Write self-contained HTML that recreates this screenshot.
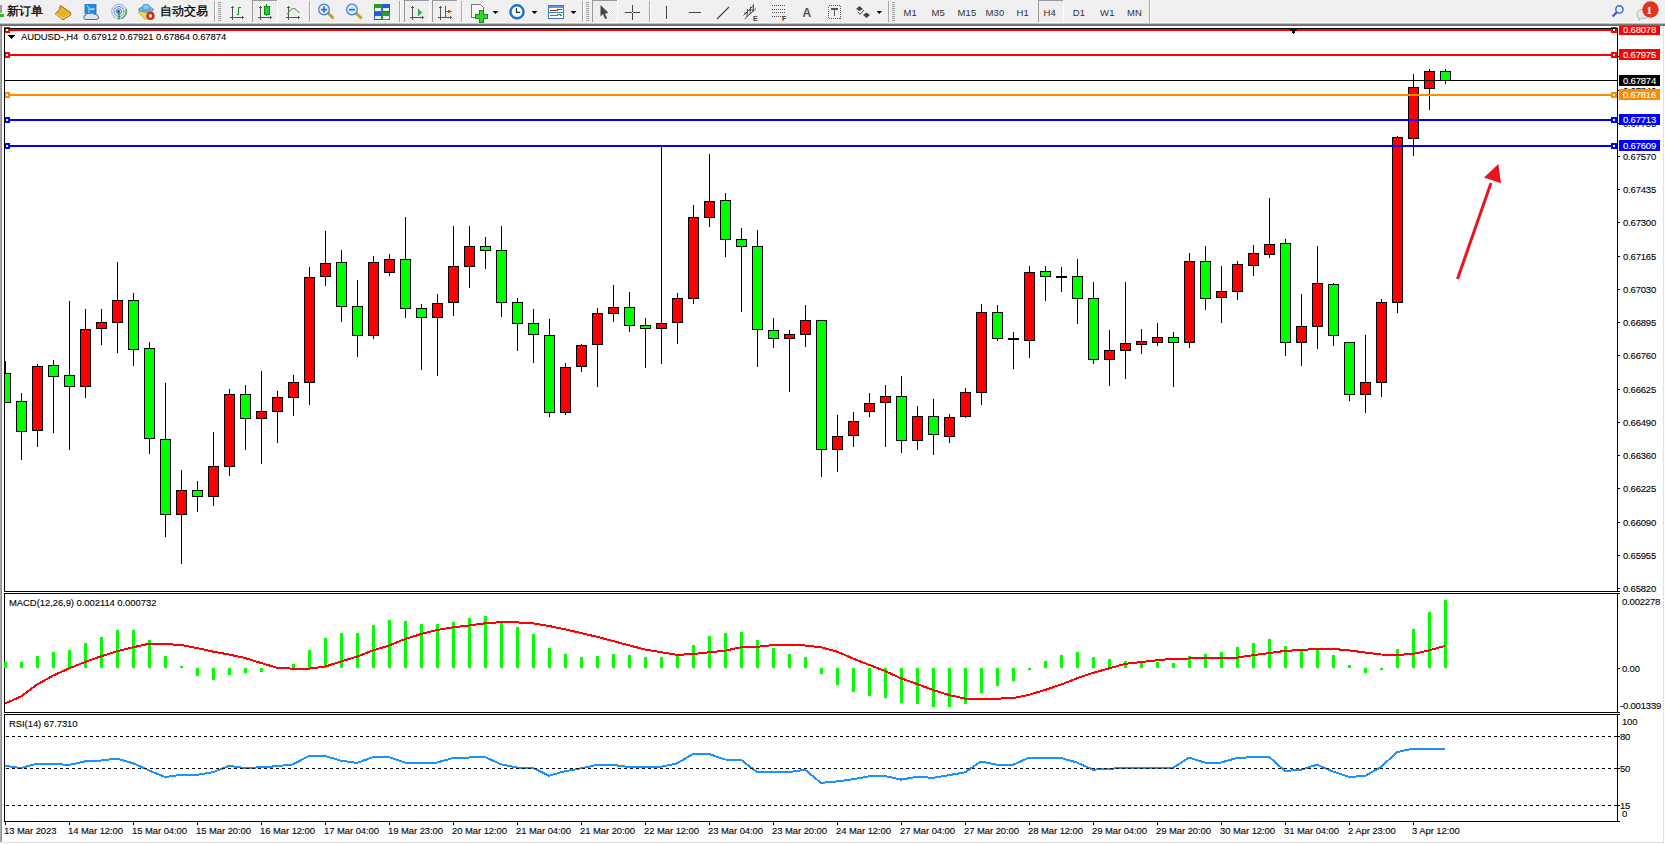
<!DOCTYPE html>
<html><head><meta charset="utf-8"><title>MT4</title>
<style>html,body{margin:0;padding:0;width:1665px;height:844px;overflow:hidden;background:#f0f0f0} svg{display:block}</style>
</head><body>
<svg width="1665" height="844" viewBox="0 0 1665 844" shape-rendering="crispEdges">
<style>text{font-family:'Liberation Sans', sans-serif;} .ax{font-size:9.5px;letter-spacing:-0.19px;fill:#000;stroke:#000;stroke-width:0.1px} .axw{font-size:9.5px;letter-spacing:-0.19px;fill:#fff;stroke:#fff;stroke-width:0.1px} .tm{font-size:9.5px;letter-spacing:-0.08px;fill:#000;stroke:#000;stroke-width:0.1px} .lb{font-size:9.5px;letter-spacing:-0.08px;fill:#000;stroke:#000;stroke-width:0.1px} .cj{font-size:12px;fill:#000;stroke:#000;stroke-width:0.3px} .tf{font-size:9.5px;fill:#333;letter-spacing:0.2px} .ic{font-size:7px;font-weight:bold;fill:#444} .icA{font-size:12px;font-weight:bold;fill:#555} .bd{font-family:"Liberation Serif",serif;font-size:11px;font-weight:bold;fill:#fff}</style>
<defs><pattern id="chk" width="2" height="2" patternUnits="userSpaceOnUse"><rect width="2" height="2" fill="#f6f6f6"/><rect width="1" height="1" fill="#e6e6e6"/><rect x="1" y="1" width="1" height="1" fill="#e6e6e6"/></pattern><clipPath id="cm"><rect x="5" y="29" width="1612" height="562"/></clipPath><clipPath id="cw"><rect x="0" y="26" width="1665" height="818"/></clipPath></defs>
<g clip-path="url(#cw)">
<rect x="2" y="26" width="1661" height="816" fill="#fff"/>
<rect x="0" y="24" width="1" height="818" fill="#ababab"/>
<rect x="1" y="24" width="1" height="818" fill="#8a8a8a"/>
<rect x="1664" y="26" width="1" height="818" fill="#fdfdfd"/>
<rect x="0" y="843" width="1665" height="1" fill="#fdfdfd"/>
<rect x="1663" y="26" width="1" height="817" fill="#e0e0e0"/>
<rect x="2" y="842" width="1662" height="1" fill="#e0e0e0"/>
<rect x="1618" y="588" width="2" height="1" fill="#000"/>
<text x="1623" y="592" class="ax">0.65820</text>
<rect x="1618" y="555" width="2" height="1" fill="#000"/>
<text x="1623" y="559" class="ax">0.65955</text>
<rect x="1618" y="522" width="2" height="1" fill="#000"/>
<text x="1623" y="526" class="ax">0.66090</text>
<rect x="1618" y="488" width="2" height="1" fill="#000"/>
<text x="1623" y="492" class="ax">0.66225</text>
<rect x="1618" y="455" width="2" height="1" fill="#000"/>
<text x="1623" y="459" class="ax">0.66360</text>
<rect x="1618" y="422" width="2" height="1" fill="#000"/>
<text x="1623" y="426" class="ax">0.66490</text>
<rect x="1618" y="389" width="2" height="1" fill="#000"/>
<text x="1623" y="393" class="ax">0.66625</text>
<rect x="1618" y="355" width="2" height="1" fill="#000"/>
<text x="1623" y="359" class="ax">0.66760</text>
<rect x="1618" y="322" width="2" height="1" fill="#000"/>
<text x="1623" y="326" class="ax">0.66895</text>
<rect x="1618" y="289" width="2" height="1" fill="#000"/>
<text x="1623" y="293" class="ax">0.67030</text>
<rect x="1618" y="256" width="2" height="1" fill="#000"/>
<text x="1623" y="260" class="ax">0.67165</text>
<rect x="1618" y="222" width="2" height="1" fill="#000"/>
<text x="1623" y="226" class="ax">0.67300</text>
<rect x="1618" y="189" width="2" height="1" fill="#000"/>
<text x="1623" y="193" class="ax">0.67435</text>
<rect x="1618" y="156" width="2" height="1" fill="#000"/>
<text x="1623" y="160" class="ax">0.67570</text>
<rect x="1618" y="123" width="2" height="1" fill="#000"/>
<text x="1623" y="127" class="ax">0.67705</text>
<rect x="1618" y="90" width="2" height="1" fill="#000"/>
<text x="1623" y="94" class="ax">0.67840</text>
<rect x="1618" y="56" width="2" height="1" fill="#000"/>
<text x="1623" y="60" class="ax">0.67975</text>
<g clip-path="url(#cm)">
<rect x="5" y="361" width="1" height="42" fill="#000"/>
<rect x="0" y="373" width="11" height="30" fill="#000"/>
<rect x="1" y="374" width="9" height="28" fill="#00ff00"/>
<rect x="21" y="393" width="1" height="67" fill="#000"/>
<rect x="16" y="401" width="11" height="31" fill="#000"/>
<rect x="17" y="402" width="9" height="29" fill="#00ff00"/>
<rect x="37" y="364" width="1" height="83" fill="#000"/>
<rect x="32" y="366" width="11" height="65" fill="#000"/>
<rect x="33" y="367" width="9" height="63" fill="#ff0000"/>
<rect x="53" y="360" width="1" height="73" fill="#000"/>
<rect x="48" y="365" width="11" height="12" fill="#000"/>
<rect x="49" y="366" width="9" height="10" fill="#00ff00"/>
<rect x="69" y="301" width="1" height="149" fill="#000"/>
<rect x="64" y="375" width="11" height="12" fill="#000"/>
<rect x="65" y="376" width="9" height="10" fill="#00ff00"/>
<rect x="85" y="309" width="1" height="89" fill="#000"/>
<rect x="80" y="329" width="11" height="58" fill="#000"/>
<rect x="81" y="330" width="9" height="56" fill="#ff0000"/>
<rect x="101" y="309" width="1" height="36" fill="#000"/>
<rect x="96" y="322" width="11" height="7" fill="#000"/>
<rect x="97" y="323" width="9" height="5" fill="#ff0000"/>
<rect x="117" y="262" width="1" height="91" fill="#000"/>
<rect x="112" y="300" width="11" height="23" fill="#000"/>
<rect x="113" y="301" width="9" height="21" fill="#ff0000"/>
<rect x="133" y="293" width="1" height="73" fill="#000"/>
<rect x="128" y="300" width="11" height="50" fill="#000"/>
<rect x="129" y="301" width="9" height="48" fill="#00ff00"/>
<rect x="149" y="342" width="1" height="112" fill="#000"/>
<rect x="144" y="348" width="11" height="91" fill="#000"/>
<rect x="145" y="349" width="9" height="89" fill="#00ff00"/>
<rect x="165" y="383" width="1" height="154" fill="#000"/>
<rect x="160" y="439" width="11" height="76" fill="#000"/>
<rect x="161" y="440" width="9" height="74" fill="#00ff00"/>
<rect x="181" y="470" width="1" height="94" fill="#000"/>
<rect x="176" y="490" width="11" height="25" fill="#000"/>
<rect x="177" y="491" width="9" height="23" fill="#ff0000"/>
<rect x="197" y="481" width="1" height="31" fill="#000"/>
<rect x="192" y="490" width="11" height="7" fill="#000"/>
<rect x="193" y="491" width="9" height="5" fill="#00ff00"/>
<rect x="213" y="432" width="1" height="74" fill="#000"/>
<rect x="208" y="466" width="11" height="31" fill="#000"/>
<rect x="209" y="467" width="9" height="29" fill="#ff0000"/>
<rect x="229" y="389" width="1" height="87" fill="#000"/>
<rect x="224" y="394" width="11" height="73" fill="#000"/>
<rect x="225" y="395" width="9" height="71" fill="#ff0000"/>
<rect x="245" y="385" width="1" height="65" fill="#000"/>
<rect x="240" y="394" width="11" height="25" fill="#000"/>
<rect x="241" y="395" width="9" height="23" fill="#00ff00"/>
<rect x="261" y="371" width="1" height="93" fill="#000"/>
<rect x="256" y="411" width="11" height="8" fill="#000"/>
<rect x="257" y="412" width="9" height="6" fill="#ff0000"/>
<rect x="277" y="391" width="1" height="52" fill="#000"/>
<rect x="272" y="397" width="11" height="15" fill="#000"/>
<rect x="273" y="398" width="9" height="13" fill="#ff0000"/>
<rect x="293" y="375" width="1" height="41" fill="#000"/>
<rect x="288" y="382" width="11" height="16" fill="#000"/>
<rect x="289" y="383" width="9" height="14" fill="#ff0000"/>
<rect x="309" y="267" width="1" height="138" fill="#000"/>
<rect x="304" y="277" width="11" height="106" fill="#000"/>
<rect x="305" y="278" width="9" height="104" fill="#ff0000"/>
<rect x="325" y="231" width="1" height="55" fill="#000"/>
<rect x="320" y="263" width="11" height="14" fill="#000"/>
<rect x="321" y="264" width="9" height="12" fill="#ff0000"/>
<rect x="341" y="250" width="1" height="72" fill="#000"/>
<rect x="336" y="262" width="11" height="45" fill="#000"/>
<rect x="337" y="263" width="9" height="43" fill="#00ff00"/>
<rect x="357" y="280" width="1" height="77" fill="#000"/>
<rect x="352" y="306" width="11" height="30" fill="#000"/>
<rect x="353" y="307" width="9" height="28" fill="#00ff00"/>
<rect x="373" y="256" width="1" height="83" fill="#000"/>
<rect x="368" y="262" width="11" height="74" fill="#000"/>
<rect x="369" y="263" width="9" height="72" fill="#ff0000"/>
<rect x="389" y="254" width="1" height="22" fill="#000"/>
<rect x="384" y="259" width="11" height="14" fill="#000"/>
<rect x="385" y="260" width="9" height="12" fill="#ff0000"/>
<rect x="405" y="217" width="1" height="101" fill="#000"/>
<rect x="400" y="259" width="11" height="50" fill="#000"/>
<rect x="401" y="260" width="9" height="48" fill="#00ff00"/>
<rect x="421" y="304" width="1" height="66" fill="#000"/>
<rect x="416" y="308" width="11" height="10" fill="#000"/>
<rect x="417" y="309" width="9" height="8" fill="#00ff00"/>
<rect x="437" y="294" width="1" height="82" fill="#000"/>
<rect x="432" y="303" width="11" height="15" fill="#000"/>
<rect x="433" y="304" width="9" height="13" fill="#ff0000"/>
<rect x="453" y="226" width="1" height="90" fill="#000"/>
<rect x="448" y="266" width="11" height="37" fill="#000"/>
<rect x="449" y="267" width="9" height="35" fill="#ff0000"/>
<rect x="469" y="226" width="1" height="62" fill="#000"/>
<rect x="464" y="246" width="11" height="21" fill="#000"/>
<rect x="465" y="247" width="9" height="19" fill="#ff0000"/>
<rect x="485" y="237" width="1" height="32" fill="#000"/>
<rect x="480" y="246" width="11" height="5" fill="#000"/>
<rect x="481" y="247" width="9" height="3" fill="#00ff00"/>
<rect x="501" y="226" width="1" height="91" fill="#000"/>
<rect x="496" y="250" width="11" height="53" fill="#000"/>
<rect x="497" y="251" width="9" height="51" fill="#00ff00"/>
<rect x="517" y="298" width="1" height="53" fill="#000"/>
<rect x="512" y="302" width="11" height="22" fill="#000"/>
<rect x="513" y="303" width="9" height="20" fill="#00ff00"/>
<rect x="533" y="309" width="1" height="54" fill="#000"/>
<rect x="528" y="323" width="11" height="12" fill="#000"/>
<rect x="529" y="324" width="9" height="10" fill="#00ff00"/>
<rect x="549" y="319" width="1" height="98" fill="#000"/>
<rect x="544" y="335" width="11" height="78" fill="#000"/>
<rect x="545" y="336" width="9" height="76" fill="#00ff00"/>
<rect x="565" y="363" width="1" height="52" fill="#000"/>
<rect x="560" y="367" width="11" height="46" fill="#000"/>
<rect x="561" y="368" width="9" height="44" fill="#ff0000"/>
<rect x="581" y="344" width="1" height="28" fill="#000"/>
<rect x="576" y="345" width="11" height="22" fill="#000"/>
<rect x="577" y="346" width="9" height="20" fill="#ff0000"/>
<rect x="597" y="308" width="1" height="79" fill="#000"/>
<rect x="592" y="313" width="11" height="32" fill="#000"/>
<rect x="593" y="314" width="9" height="30" fill="#ff0000"/>
<rect x="613" y="285" width="1" height="37" fill="#000"/>
<rect x="608" y="307" width="11" height="7" fill="#000"/>
<rect x="609" y="308" width="9" height="5" fill="#ff0000"/>
<rect x="629" y="292" width="1" height="40" fill="#000"/>
<rect x="624" y="307" width="11" height="19" fill="#000"/>
<rect x="625" y="308" width="9" height="17" fill="#00ff00"/>
<rect x="645" y="318" width="1" height="50" fill="#000"/>
<rect x="640" y="325" width="11" height="4" fill="#000"/>
<rect x="641" y="326" width="9" height="2" fill="#00ff00"/>
<rect x="661" y="146" width="1" height="218" fill="#000"/>
<rect x="656" y="323" width="11" height="6" fill="#000"/>
<rect x="657" y="324" width="9" height="4" fill="#ff0000"/>
<rect x="677" y="293" width="1" height="51" fill="#000"/>
<rect x="672" y="298" width="11" height="25" fill="#000"/>
<rect x="673" y="299" width="9" height="23" fill="#ff0000"/>
<rect x="693" y="205" width="1" height="99" fill="#000"/>
<rect x="688" y="217" width="11" height="82" fill="#000"/>
<rect x="689" y="218" width="9" height="80" fill="#ff0000"/>
<rect x="709" y="154" width="1" height="73" fill="#000"/>
<rect x="704" y="201" width="11" height="17" fill="#000"/>
<rect x="705" y="202" width="9" height="15" fill="#ff0000"/>
<rect x="725" y="193" width="1" height="64" fill="#000"/>
<rect x="720" y="200" width="11" height="40" fill="#000"/>
<rect x="721" y="201" width="9" height="38" fill="#00ff00"/>
<rect x="741" y="228" width="1" height="84" fill="#000"/>
<rect x="736" y="239" width="11" height="8" fill="#000"/>
<rect x="737" y="240" width="9" height="6" fill="#00ff00"/>
<rect x="757" y="230" width="1" height="137" fill="#000"/>
<rect x="752" y="246" width="11" height="84" fill="#000"/>
<rect x="753" y="247" width="9" height="82" fill="#00ff00"/>
<rect x="773" y="318" width="1" height="30" fill="#000"/>
<rect x="768" y="330" width="11" height="9" fill="#000"/>
<rect x="769" y="331" width="9" height="7" fill="#00ff00"/>
<rect x="789" y="330" width="1" height="62" fill="#000"/>
<rect x="784" y="334" width="11" height="5" fill="#000"/>
<rect x="785" y="335" width="9" height="3" fill="#ff0000"/>
<rect x="805" y="305" width="1" height="42" fill="#000"/>
<rect x="800" y="320" width="11" height="15" fill="#000"/>
<rect x="801" y="321" width="9" height="13" fill="#ff0000"/>
<rect x="821" y="320" width="1" height="157" fill="#000"/>
<rect x="816" y="320" width="11" height="130" fill="#000"/>
<rect x="817" y="321" width="9" height="128" fill="#00ff00"/>
<rect x="837" y="415" width="1" height="57" fill="#000"/>
<rect x="832" y="436" width="11" height="14" fill="#000"/>
<rect x="833" y="437" width="9" height="12" fill="#ff0000"/>
<rect x="853" y="412" width="1" height="35" fill="#000"/>
<rect x="848" y="421" width="11" height="15" fill="#000"/>
<rect x="849" y="422" width="9" height="13" fill="#ff0000"/>
<rect x="869" y="393" width="1" height="24" fill="#000"/>
<rect x="864" y="403" width="11" height="9" fill="#000"/>
<rect x="865" y="404" width="9" height="7" fill="#ff0000"/>
<rect x="885" y="385" width="1" height="62" fill="#000"/>
<rect x="880" y="396" width="11" height="7" fill="#000"/>
<rect x="881" y="397" width="9" height="5" fill="#ff0000"/>
<rect x="901" y="376" width="1" height="77" fill="#000"/>
<rect x="896" y="396" width="11" height="45" fill="#000"/>
<rect x="897" y="397" width="9" height="43" fill="#00ff00"/>
<rect x="917" y="406" width="1" height="44" fill="#000"/>
<rect x="912" y="416" width="11" height="25" fill="#000"/>
<rect x="913" y="417" width="9" height="23" fill="#ff0000"/>
<rect x="933" y="399" width="1" height="56" fill="#000"/>
<rect x="928" y="416" width="11" height="19" fill="#000"/>
<rect x="929" y="417" width="9" height="17" fill="#00ff00"/>
<rect x="949" y="414" width="1" height="29" fill="#000"/>
<rect x="944" y="417" width="11" height="20" fill="#000"/>
<rect x="945" y="418" width="9" height="18" fill="#ff0000"/>
<rect x="965" y="388" width="1" height="30" fill="#000"/>
<rect x="960" y="392" width="11" height="25" fill="#000"/>
<rect x="961" y="393" width="9" height="23" fill="#ff0000"/>
<rect x="981" y="304" width="1" height="101" fill="#000"/>
<rect x="976" y="312" width="11" height="81" fill="#000"/>
<rect x="977" y="313" width="9" height="79" fill="#ff0000"/>
<rect x="997" y="305" width="1" height="36" fill="#000"/>
<rect x="992" y="312" width="11" height="27" fill="#000"/>
<rect x="993" y="313" width="9" height="25" fill="#00ff00"/>
<rect x="1013" y="332" width="1" height="37" fill="#000"/>
<rect x="1008" y="338" width="11" height="2" fill="#000"/>
<rect x="1029" y="266" width="1" height="92" fill="#000"/>
<rect x="1024" y="272" width="11" height="69" fill="#000"/>
<rect x="1025" y="273" width="9" height="67" fill="#ff0000"/>
<rect x="1045" y="266" width="1" height="35" fill="#000"/>
<rect x="1040" y="271" width="11" height="6" fill="#000"/>
<rect x="1041" y="272" width="9" height="4" fill="#00ff00"/>
<rect x="1061" y="267" width="1" height="25" fill="#000"/>
<rect x="1056" y="276" width="11" height="2" fill="#000"/>
<rect x="1077" y="259" width="1" height="65" fill="#000"/>
<rect x="1072" y="276" width="11" height="23" fill="#000"/>
<rect x="1073" y="277" width="9" height="21" fill="#00ff00"/>
<rect x="1093" y="282" width="1" height="82" fill="#000"/>
<rect x="1088" y="298" width="11" height="62" fill="#000"/>
<rect x="1089" y="299" width="9" height="60" fill="#00ff00"/>
<rect x="1109" y="330" width="1" height="56" fill="#000"/>
<rect x="1104" y="350" width="11" height="10" fill="#000"/>
<rect x="1105" y="351" width="9" height="8" fill="#ff0000"/>
<rect x="1125" y="282" width="1" height="97" fill="#000"/>
<rect x="1120" y="343" width="11" height="8" fill="#000"/>
<rect x="1121" y="344" width="9" height="6" fill="#ff0000"/>
<rect x="1141" y="329" width="1" height="25" fill="#000"/>
<rect x="1136" y="341" width="11" height="4" fill="#000"/>
<rect x="1137" y="342" width="9" height="2" fill="#ff0000"/>
<rect x="1157" y="323" width="1" height="23" fill="#000"/>
<rect x="1152" y="337" width="11" height="6" fill="#000"/>
<rect x="1153" y="338" width="9" height="4" fill="#ff0000"/>
<rect x="1173" y="332" width="1" height="55" fill="#000"/>
<rect x="1168" y="337" width="11" height="6" fill="#000"/>
<rect x="1169" y="338" width="9" height="4" fill="#00ff00"/>
<rect x="1189" y="253" width="1" height="95" fill="#000"/>
<rect x="1184" y="261" width="11" height="82" fill="#000"/>
<rect x="1185" y="262" width="9" height="80" fill="#ff0000"/>
<rect x="1205" y="246" width="1" height="64" fill="#000"/>
<rect x="1200" y="261" width="11" height="38" fill="#000"/>
<rect x="1201" y="262" width="9" height="36" fill="#00ff00"/>
<rect x="1221" y="266" width="1" height="57" fill="#000"/>
<rect x="1216" y="291" width="11" height="7" fill="#000"/>
<rect x="1217" y="292" width="9" height="5" fill="#ff0000"/>
<rect x="1237" y="261" width="1" height="39" fill="#000"/>
<rect x="1232" y="264" width="11" height="28" fill="#000"/>
<rect x="1233" y="265" width="9" height="26" fill="#ff0000"/>
<rect x="1253" y="245" width="1" height="31" fill="#000"/>
<rect x="1248" y="253" width="11" height="13" fill="#000"/>
<rect x="1249" y="254" width="9" height="11" fill="#ff0000"/>
<rect x="1269" y="198" width="1" height="60" fill="#000"/>
<rect x="1264" y="244" width="11" height="11" fill="#000"/>
<rect x="1265" y="245" width="9" height="9" fill="#ff0000"/>
<rect x="1285" y="239" width="1" height="117" fill="#000"/>
<rect x="1280" y="243" width="11" height="100" fill="#000"/>
<rect x="1281" y="244" width="9" height="98" fill="#00ff00"/>
<rect x="1301" y="294" width="1" height="72" fill="#000"/>
<rect x="1296" y="326" width="11" height="17" fill="#000"/>
<rect x="1297" y="327" width="9" height="15" fill="#ff0000"/>
<rect x="1317" y="246" width="1" height="103" fill="#000"/>
<rect x="1312" y="283" width="11" height="44" fill="#000"/>
<rect x="1313" y="284" width="9" height="42" fill="#ff0000"/>
<rect x="1333" y="283" width="1" height="63" fill="#000"/>
<rect x="1328" y="284" width="11" height="52" fill="#000"/>
<rect x="1329" y="285" width="9" height="50" fill="#00ff00"/>
<rect x="1349" y="342" width="1" height="59" fill="#000"/>
<rect x="1344" y="342" width="11" height="53" fill="#000"/>
<rect x="1345" y="343" width="9" height="51" fill="#00ff00"/>
<rect x="1365" y="335" width="1" height="78" fill="#000"/>
<rect x="1360" y="382" width="11" height="13" fill="#000"/>
<rect x="1361" y="383" width="9" height="11" fill="#ff0000"/>
<rect x="1381" y="299" width="1" height="98" fill="#000"/>
<rect x="1376" y="302" width="11" height="81" fill="#000"/>
<rect x="1377" y="303" width="9" height="79" fill="#ff0000"/>
<rect x="1397" y="136" width="1" height="177" fill="#000"/>
<rect x="1392" y="137" width="11" height="166" fill="#000"/>
<rect x="1393" y="138" width="9" height="164" fill="#ff0000"/>
<rect x="1413" y="74" width="1" height="82" fill="#000"/>
<rect x="1408" y="87" width="11" height="52" fill="#000"/>
<rect x="1409" y="88" width="9" height="50" fill="#ff0000"/>
<rect x="1429" y="69" width="1" height="41" fill="#000"/>
<rect x="1424" y="71" width="11" height="18" fill="#000"/>
<rect x="1425" y="72" width="9" height="16" fill="#ff0000"/>
<rect x="1445" y="69" width="1" height="15" fill="#000"/>
<rect x="1440" y="71" width="11" height="10" fill="#000"/>
<rect x="1441" y="72" width="9" height="8" fill="#00ff00"/>
</g>
<rect x="5" y="80" width="1612" height="1" fill="#000"/>
<rect x="5" y="29" width="1612" height="2" fill="#ff0000"/>
<rect x="4" y="27" width="6" height="6" fill="#ff0000"/><rect x="6" y="29" width="2" height="2" fill="#fff"/>
<rect x="1611" y="27" width="6" height="6" fill="#ff0000"/><rect x="1613" y="29" width="2" height="2" fill="#fff"/>
<rect x="5" y="54" width="1612" height="2" fill="#ff0000"/>
<rect x="4" y="52" width="6" height="6" fill="#ff0000"/><rect x="6" y="54" width="2" height="2" fill="#fff"/>
<rect x="1611" y="52" width="6" height="6" fill="#ff0000"/><rect x="1613" y="54" width="2" height="2" fill="#fff"/>
<rect x="5" y="119" width="1612" height="2" fill="#0000ff"/>
<rect x="4" y="117" width="6" height="6" fill="#0000ff"/><rect x="6" y="119" width="2" height="2" fill="#fff"/>
<rect x="1611" y="117" width="6" height="6" fill="#0000ff"/><rect x="1613" y="119" width="2" height="2" fill="#fff"/>
<rect x="5" y="145" width="1612" height="2" fill="#0000ff"/>
<rect x="4" y="143" width="6" height="6" fill="#0000ff"/><rect x="6" y="145" width="2" height="2" fill="#fff"/>
<rect x="1611" y="143" width="6" height="6" fill="#0000ff"/><rect x="1613" y="145" width="2" height="2" fill="#fff"/>
<rect x="5" y="94" width="1612" height="2" fill="#ff8c00"/>
<rect x="4" y="92" width="6" height="6" fill="#ff8c00"/><rect x="6" y="94" width="2" height="2" fill="#fff"/>
<rect x="1611" y="92" width="6" height="6" fill="#ff8c00"/><rect x="1613" y="94" width="2" height="2" fill="#fff"/>
<rect x="1619" y="24" width="41" height="11" fill="#ff0000"/>
<text x="1623" y="33" class="axw">0.68078</text>
<rect x="1619" y="49" width="41" height="11" fill="#ff0000"/>
<text x="1623" y="58" class="axw">0.67975</text>
<rect x="1619" y="114" width="41" height="11" fill="#0000ff"/>
<text x="1623" y="123" class="axw">0.67713</text>
<rect x="1619" y="140" width="41" height="11" fill="#0000ff"/>
<text x="1623" y="149" class="axw">0.67609</text>
<rect x="1619" y="89" width="41" height="11" fill="#ff8c00"/>
<text x="1623" y="98" class="axw">0.67816</text>
<rect x="1619" y="75" width="41" height="11" fill="#000000"/>
<text x="1623" y="84" class="axw">0.67874</text>
<path d="M1289 28 L1298 28 L1293.5 34 Z" fill="#000"/>
<g shape-rendering="geometricPrecision"><line x1="1457.5" y1="279" x2="1491" y2="183" stroke="#e8141e" stroke-width="3"/>
<path d="M1498.4 164 L1484 177.4 L1501 183.2 Z" fill="#e8141e"/></g>
<rect x="4" y="28" width="1614" height="1" fill="#000"/>
<rect x="4" y="591" width="1614" height="1" fill="#000"/>
<rect x="4" y="28" width="1" height="564" fill="#000"/>
<rect x="1617" y="28" width="1" height="564" fill="#000"/>
<rect x="4" y="593" width="1614" height="1" fill="#000"/>
<rect x="4" y="712" width="1614" height="1" fill="#000"/>
<rect x="4" y="593" width="1" height="120" fill="#000"/>
<rect x="1617" y="593" width="1" height="120" fill="#000"/>
<rect x="4" y="714" width="1614" height="1" fill="#000"/>
<rect x="4" y="821" width="1614" height="1" fill="#000"/>
<rect x="4" y="714" width="1" height="108" fill="#000"/>
<rect x="1617" y="714" width="1" height="108" fill="#000"/>
<path d="M8 35 L15 35 L11.5 39 Z" fill="#000"/>
<text x="21" y="40" class="lb">AUDUSD-,H4&#160;&#160;0.67912 0.67921 0.67864 0.67874</text>
<text x="9" y="606" class="lb">MACD(12,26,9) 0.002114 0.000732</text>
<rect x="4" y="662" width="3" height="6" fill="#00ff00"/>
<rect x="20" y="662" width="3" height="6" fill="#00ff00"/>
<rect x="36" y="656" width="3" height="12" fill="#00ff00"/>
<rect x="52" y="652" width="3" height="16" fill="#00ff00"/>
<rect x="68" y="650" width="3" height="18" fill="#00ff00"/>
<rect x="84" y="643" width="3" height="25" fill="#00ff00"/>
<rect x="100" y="637" width="3" height="31" fill="#00ff00"/>
<rect x="116" y="630" width="3" height="38" fill="#00ff00"/>
<rect x="132" y="630" width="3" height="38" fill="#00ff00"/>
<rect x="148" y="640" width="3" height="28" fill="#00ff00"/>
<rect x="164" y="656" width="3" height="12" fill="#00ff00"/>
<rect x="180" y="666" width="3" height="2" fill="#00ff00"/>
<rect x="196" y="668" width="3" height="8" fill="#00ff00"/>
<rect x="212" y="668" width="3" height="12" fill="#00ff00"/>
<rect x="228" y="668" width="3" height="7" fill="#00ff00"/>
<rect x="244" y="668" width="3" height="5" fill="#00ff00"/>
<rect x="260" y="668" width="3" height="4" fill="#00ff00"/>
<rect x="276" y="668" width="3" height="1" fill="#00ff00"/>
<rect x="292" y="664" width="3" height="4" fill="#00ff00"/>
<rect x="308" y="650" width="3" height="18" fill="#00ff00"/>
<rect x="324" y="638" width="3" height="30" fill="#00ff00"/>
<rect x="340" y="633" width="3" height="35" fill="#00ff00"/>
<rect x="356" y="633" width="3" height="35" fill="#00ff00"/>
<rect x="372" y="625" width="3" height="43" fill="#00ff00"/>
<rect x="388" y="620" width="3" height="48" fill="#00ff00"/>
<rect x="404" y="621" width="3" height="47" fill="#00ff00"/>
<rect x="420" y="624" width="3" height="44" fill="#00ff00"/>
<rect x="436" y="624" width="3" height="44" fill="#00ff00"/>
<rect x="452" y="622" width="3" height="46" fill="#00ff00"/>
<rect x="468" y="618" width="3" height="50" fill="#00ff00"/>
<rect x="484" y="616" width="3" height="52" fill="#00ff00"/>
<rect x="500" y="623" width="3" height="45" fill="#00ff00"/>
<rect x="516" y="627" width="3" height="41" fill="#00ff00"/>
<rect x="532" y="634" width="3" height="34" fill="#00ff00"/>
<rect x="548" y="648" width="3" height="20" fill="#00ff00"/>
<rect x="564" y="654" width="3" height="14" fill="#00ff00"/>
<rect x="580" y="657" width="3" height="11" fill="#00ff00"/>
<rect x="596" y="656" width="3" height="12" fill="#00ff00"/>
<rect x="612" y="654" width="3" height="14" fill="#00ff00"/>
<rect x="628" y="655" width="3" height="13" fill="#00ff00"/>
<rect x="644" y="657" width="3" height="11" fill="#00ff00"/>
<rect x="660" y="657" width="3" height="11" fill="#00ff00"/>
<rect x="676" y="656" width="3" height="12" fill="#00ff00"/>
<rect x="692" y="645" width="3" height="23" fill="#00ff00"/>
<rect x="708" y="636" width="3" height="32" fill="#00ff00"/>
<rect x="724" y="633" width="3" height="35" fill="#00ff00"/>
<rect x="740" y="632" width="3" height="36" fill="#00ff00"/>
<rect x="756" y="640" width="3" height="28" fill="#00ff00"/>
<rect x="772" y="648" width="3" height="20" fill="#00ff00"/>
<rect x="788" y="654" width="3" height="14" fill="#00ff00"/>
<rect x="804" y="657" width="3" height="11" fill="#00ff00"/>
<rect x="820" y="668" width="3" height="6" fill="#00ff00"/>
<rect x="836" y="668" width="3" height="17" fill="#00ff00"/>
<rect x="852" y="668" width="3" height="24" fill="#00ff00"/>
<rect x="868" y="668" width="3" height="28" fill="#00ff00"/>
<rect x="884" y="668" width="3" height="30" fill="#00ff00"/>
<rect x="900" y="668" width="3" height="35" fill="#00ff00"/>
<rect x="916" y="668" width="3" height="36" fill="#00ff00"/>
<rect x="932" y="668" width="3" height="39" fill="#00ff00"/>
<rect x="948" y="668" width="3" height="39" fill="#00ff00"/>
<rect x="964" y="668" width="3" height="36" fill="#00ff00"/>
<rect x="980" y="668" width="3" height="25" fill="#00ff00"/>
<rect x="996" y="668" width="3" height="18" fill="#00ff00"/>
<rect x="1012" y="668" width="3" height="13" fill="#00ff00"/>
<rect x="1028" y="668" width="3" height="2" fill="#00ff00"/>
<rect x="1044" y="661" width="3" height="7" fill="#00ff00"/>
<rect x="1060" y="655" width="3" height="13" fill="#00ff00"/>
<rect x="1076" y="652" width="3" height="16" fill="#00ff00"/>
<rect x="1092" y="657" width="3" height="11" fill="#00ff00"/>
<rect x="1108" y="659" width="3" height="9" fill="#00ff00"/>
<rect x="1124" y="661" width="3" height="7" fill="#00ff00"/>
<rect x="1140" y="662" width="3" height="6" fill="#00ff00"/>
<rect x="1156" y="662" width="3" height="6" fill="#00ff00"/>
<rect x="1172" y="663" width="3" height="5" fill="#00ff00"/>
<rect x="1188" y="656" width="3" height="12" fill="#00ff00"/>
<rect x="1204" y="654" width="3" height="14" fill="#00ff00"/>
<rect x="1220" y="652" width="3" height="16" fill="#00ff00"/>
<rect x="1236" y="647" width="3" height="21" fill="#00ff00"/>
<rect x="1252" y="643" width="3" height="25" fill="#00ff00"/>
<rect x="1268" y="639" width="3" height="29" fill="#00ff00"/>
<rect x="1284" y="646" width="3" height="22" fill="#00ff00"/>
<rect x="1300" y="651" width="3" height="17" fill="#00ff00"/>
<rect x="1316" y="650" width="3" height="18" fill="#00ff00"/>
<rect x="1332" y="655" width="3" height="13" fill="#00ff00"/>
<rect x="1348" y="665" width="3" height="3" fill="#00ff00"/>
<rect x="1364" y="668" width="3" height="5" fill="#00ff00"/>
<rect x="1380" y="668" width="3" height="2" fill="#00ff00"/>
<rect x="1396" y="649" width="3" height="19" fill="#00ff00"/>
<rect x="1412" y="629" width="3" height="39" fill="#00ff00"/>
<rect x="1428" y="612" width="3" height="56" fill="#00ff00"/>
<rect x="1444" y="600" width="3" height="68" fill="#00ff00"/>
<polyline points="5,703.5 21,696.5 37,684.6 53,675.6 69,668.4 85,662 101,656.3 117,651.3 133,647.3 149,643.7 165,644 181,645 197,648 213,651.6 229,654.5 245,658 261,663 277,667.8 293,668.7 309,668.7 325,666.6 341,661.5 357,656.7 373,650.4 389,645.5 405,639 421,634.1 437,630 453,627.3 469,625.5 485,623.3 501,622.1 517,622.4 533,623.3 549,626 565,629.3 581,633 597,636.8 613,641 629,645.3 645,649.5 661,652.2 677,654.9 693,654 709,652.3 725,650.7 741,647.3 757,646.8 773,645.1 789,645 805,645.5 821,647.3 837,651.6 853,658.5 869,664.8 885,671 901,678.3 917,684 933,690 949,695 965,698.6 981,698.6 997,698.6 1013,698.2 1029,694.8 1045,690 1061,684.6 1077,678.3 1093,672.9 1109,668.4 1125,663.9 1141,662 1157,660.3 1173,658.8 1189,658.5 1205,658 1221,657.8 1237,657.6 1253,655.2 1269,653.1 1285,650.9 1301,650 1317,648.9 1333,648.9 1349,650.4 1365,652.5 1381,654.5 1397,654.9 1413,654 1429,650.4 1445,645.9" fill="none" stroke="#ff0000" stroke-width="2" shape-rendering="crispEdges"/>
<text x="1622" y="605" class="ax">0.002278</text>
<rect x="1618" y="668" width="2" height="1" fill="#000"/>
<text x="1622" y="672" class="ax">0.00</text>
<text x="1620" y="709" class="ax">-0.001339</text>
<text x="9" y="727" class="lb">RSI(14) 67.7310</text>
<polyline points="5,765.9 21,768 37,763.7 53,763.7 69,765 85,761.4 101,760.5 117,758.6 133,763.2 149,770.4 165,777 181,774.9 197,774.9 213,772.2 229,765.9 245,768 261,767.3 277,766.2 293,764.4 309,755.9 325,755.9 341,760.7 357,762.9 373,757.1 389,757.1 405,762.5 421,762.5 437,762.5 453,758 469,757.5 485,757.1 501,764.3 517,767.6 533,767.9 549,775.7 565,771.2 581,768.4 597,764.9 613,764.9 629,767 645,767 661,766.7 677,763.4 693,754 709,754 725,759.5 741,759.8 757,772.1 773,772.1 789,772.1 805,769.7 821,782.9 837,781.4 853,779.3 869,776.4 885,776 901,779.6 917,776.9 933,777.8 949,775.1 965,772.4 981,761.6 997,764.7 1013,764.7 1029,757.7 1045,757.7 1061,758 1077,762.5 1093,769.7 1109,768.8 1125,767.9 1141,767.9 1157,767.9 1173,767.9 1189,757.7 1205,762.5 1221,762.5 1237,758 1253,757.1 1269,756.8 1285,771 1301,769.7 1317,764.7 1333,771.5 1349,776.9 1365,776 1381,767 1397,752.1 1413,748.6 1429,748.6 1445,748.6" fill="none" stroke="#1e90ff" stroke-width="2" shape-rendering="crispEdges"/>
<line x1="6" y1="736.5" x2="1617" y2="736.5" stroke="#000" stroke-width="1" stroke-dasharray="3 3"/>
<line x1="6" y1="768.5" x2="1617" y2="768.5" stroke="#000" stroke-width="1" stroke-dasharray="3 3"/>
<line x1="6" y1="805.5" x2="1617" y2="805.5" stroke="#000" stroke-width="1" stroke-dasharray="3 3"/>
<rect x="1618" y="714" width="2" height="1" fill="#000"/><rect x="1618" y="821" width="2" height="1" fill="#000"/><rect x="1618" y="593" width="2" height="1" fill="#000"/><rect x="1618" y="712" width="2" height="1" fill="#000"/><rect x="1618" y="591" width="2" height="1" fill="#000"/>
<text x="1622" y="725" class="ax">100</text>
<rect x="1618" y="736" width="2" height="1" fill="#000"/>
<text x="1620" y="740" class="ax">80</text>
<rect x="1618" y="768" width="2" height="1" fill="#000"/>
<text x="1620" y="772" class="ax">50</text>
<rect x="1618" y="805" width="2" height="1" fill="#000"/>
<text x="1620" y="809" class="ax">15</text>
<text x="1622" y="817" class="ax">0</text>
<rect x="5" y="822" width="1" height="3" fill="#000"/>
<text x="4" y="834" class="tm">13 Mar 2023</text>
<rect x="69" y="822" width="1" height="3" fill="#000"/>
<text x="68" y="834" class="tm">14 Mar 12:00</text>
<rect x="133" y="822" width="1" height="3" fill="#000"/>
<text x="132" y="834" class="tm">15 Mar 04:00</text>
<rect x="197" y="822" width="1" height="3" fill="#000"/>
<text x="196" y="834" class="tm">15 Mar 20:00</text>
<rect x="261" y="822" width="1" height="3" fill="#000"/>
<text x="260" y="834" class="tm">16 Mar 12:00</text>
<rect x="325" y="822" width="1" height="3" fill="#000"/>
<text x="324" y="834" class="tm">17 Mar 04:00</text>
<rect x="389" y="822" width="1" height="3" fill="#000"/>
<text x="388" y="834" class="tm">19 Mar 23:00</text>
<rect x="453" y="822" width="1" height="3" fill="#000"/>
<text x="452" y="834" class="tm">20 Mar 12:00</text>
<rect x="517" y="822" width="1" height="3" fill="#000"/>
<text x="516" y="834" class="tm">21 Mar 04:00</text>
<rect x="581" y="822" width="1" height="3" fill="#000"/>
<text x="580" y="834" class="tm">21 Mar 20:00</text>
<rect x="645" y="822" width="1" height="3" fill="#000"/>
<text x="644" y="834" class="tm">22 Mar 12:00</text>
<rect x="709" y="822" width="1" height="3" fill="#000"/>
<text x="708" y="834" class="tm">23 Mar 04:00</text>
<rect x="773" y="822" width="1" height="3" fill="#000"/>
<text x="772" y="834" class="tm">23 Mar 20:00</text>
<rect x="837" y="822" width="1" height="3" fill="#000"/>
<text x="836" y="834" class="tm">24 Mar 12:00</text>
<rect x="901" y="822" width="1" height="3" fill="#000"/>
<text x="900" y="834" class="tm">27 Mar 04:00</text>
<rect x="965" y="822" width="1" height="3" fill="#000"/>
<text x="964" y="834" class="tm">27 Mar 20:00</text>
<rect x="1029" y="822" width="1" height="3" fill="#000"/>
<text x="1028" y="834" class="tm">28 Mar 12:00</text>
<rect x="1093" y="822" width="1" height="3" fill="#000"/>
<text x="1092" y="834" class="tm">29 Mar 04:00</text>
<rect x="1157" y="822" width="1" height="3" fill="#000"/>
<text x="1156" y="834" class="tm">29 Mar 20:00</text>
<rect x="1221" y="822" width="1" height="3" fill="#000"/>
<text x="1220" y="834" class="tm">30 Mar 12:00</text>
<rect x="1285" y="822" width="1" height="3" fill="#000"/>
<text x="1284" y="834" class="tm">31 Mar 04:00</text>
<rect x="1349" y="822" width="1" height="3" fill="#000"/>
<text x="1348" y="834" class="tm">2 Apr 23:00</text>
<rect x="1413" y="822" width="1" height="3" fill="#000"/>
<text x="1412" y="834" class="tm">3 Apr 12:00</text>
</g>
<rect x="0" y="0" width="1665" height="23" fill="#f0f0f0"/>
<rect x="0" y="22" width="1665" height="1" fill="#f4f4f4"/>
<rect x="0" y="23" width="1665" height="1" fill="#c4c4c4"/>
<rect x="0" y="24" width="1665" height="1" fill="#7a7a7a"/>
<rect x="0" y="25" width="1665" height="1" fill="#6a6a6a"/>
<rect x="0" y="5" width="2" height="8" fill="#9a9a9a"/><rect x="0" y="14" width="4" height="3" fill="#22bb22"/>
<text x="7" y="15" class="cj">新订单</text>
<g shape-rendering="geometricPrecision"><path d="M60.5 5.5 L70.3 12.3 L70.8 14.8 L63 19.8 L55.3 14 L59.3 9.6 Z" fill="#e6b422" stroke="#a2641c" stroke-width="1"/><path d="M56 14 L63 18.6 L70 14" fill="none" stroke="#f4dc8a" stroke-width="1"/></g>
<g shape-rendering="geometricPrecision"><rect x="85" y="4.5" width="11" height="9" fill="#1b8ef0" stroke="#0f6fd0" stroke-width="0.8"/><path d="M86.5 5.5 L89 7.5 L89 13" stroke="#fff" stroke-width="0.8" fill="none"/><rect x="90" y="8.5" width="4.5" height="1.2" fill="#fff"/><path d="M84 18.5 Q83 15 86 15 Q87 12.5 90 13.5 Q92 12 94 14 Q98 14 98.5 17 Q99 19.5 96 19.5 L86 19.5 Q84 19.5 84 18.5 Z" fill="#dfe3ee" stroke="#4a5a8c" stroke-width="0.9"/></g>
<g shape-rendering="geometricPrecision" fill="none"><circle cx="119" cy="11.5" r="7.3" stroke="#7fa8d8" stroke-width="0.9"/><circle cx="119" cy="11.5" r="5" stroke="#4a7fd0" stroke-width="0.9"/><circle cx="119" cy="11.5" r="2.7" stroke="#2f66c8" stroke-width="0.9"/><path d="M121 18.5 A7.3 7.3 0 0 0 126 9" stroke="#5aa85a" stroke-width="1.6"/><circle cx="118.5" cy="11.5" r="1.4" fill="#2050c0"/><path d="M119 12 L119 19.5" stroke="#22a022" stroke-width="1.3"/></g>
<g shape-rendering="geometricPrecision"><path d="M138.5 12.5 L145 19.5 L152 14 L152 11 L139 11 Z" fill="#f2d650" stroke="#c8a030" stroke-width="0.8"/><ellipse cx="146" cy="9.5" rx="7.5" ry="2.6" fill="#6ab8e0" stroke="#3a88b8" stroke-width="0.8"/><ellipse cx="146" cy="7.3" rx="3.8" ry="3" fill="#88c8ea" stroke="#3a88b8" stroke-width="0.8"/><circle cx="150.5" cy="15.9" r="4.1" fill="#d42a1a"/><rect x="149" y="14.4" width="3" height="3" fill="#fff"/></g>
<text x="160" y="15" class="cj">自动交易</text>
<rect x="214" y="1" width="1" height="21" fill="#a8a8a8"/><rect x="215" y="1" width="1" height="21" fill="#fcfcfc"/>
<rect x="218" y="2" width="3" height="1" fill="#a0a0a0"/>
<rect x="218" y="4" width="3" height="1" fill="#a0a0a0"/>
<rect x="218" y="6" width="3" height="1" fill="#a0a0a0"/>
<rect x="218" y="8" width="3" height="1" fill="#a0a0a0"/>
<rect x="218" y="10" width="3" height="1" fill="#a0a0a0"/>
<rect x="218" y="12" width="3" height="1" fill="#a0a0a0"/>
<rect x="218" y="14" width="3" height="1" fill="#a0a0a0"/>
<rect x="218" y="16" width="3" height="1" fill="#a0a0a0"/>
<rect x="218" y="18" width="3" height="1" fill="#a0a0a0"/>
<rect x="218" y="20" width="3" height="1" fill="#a0a0a0"/>
<rect x="232" y="6" width="1" height="14" fill="#555"/>
<rect x="230" y="17" width="14" height="1" fill="#555"/>
<rect x="231" y="7" width="3" height="1" fill="#555"/>
<rect x="242" y="16" width="1" height="3" fill="#555"/>
<path d="M236.5 14.5 H238.5 V7.5 H240.5" fill="none" stroke="#1a9a1a" stroke-width="1"/>
<rect x="252" y="0" width="25" height="22" fill="url(#chk)"/>
<rect x="252" y="0" width="25" height="1" fill="#9a9a9a"/><rect x="252" y="0" width="1" height="22" fill="#9a9a9a"/>
<rect x="277" y="0" width="1" height="23" fill="#fdfdfd"/><rect x="252" y="22" width="26" height="1" fill="#fdfdfd"/>
<rect x="260" y="6" width="1" height="14" fill="#555"/>
<rect x="258" y="17" width="14" height="1" fill="#555"/>
<rect x="259" y="7" width="3" height="1" fill="#555"/>
<rect x="270" y="16" width="1" height="3" fill="#555"/>
<rect x="266" y="4" width="1" height="12" fill="#0a900a"/><rect x="264" y="6" width="5" height="8" fill="#22cc44" stroke="#0a900a" stroke-width="1"/>
<rect x="288" y="6" width="1" height="14" fill="#555"/>
<rect x="286" y="17" width="14" height="1" fill="#555"/>
<rect x="287" y="7" width="3" height="1" fill="#555"/>
<rect x="298" y="16" width="1" height="3" fill="#555"/>
<path d="M287 14.5 Q292 6 296 9.5 L299.5 13" fill="none" stroke="#2a9a2a" stroke-width="1" shape-rendering="geometricPrecision"/>
<rect x="309" y="1" width="1" height="21" fill="#a8a8a8"/><rect x="310" y="1" width="1" height="21" fill="#fcfcfc"/>
<g shape-rendering="geometricPrecision"><path d="M328 13 L333.5 18.5" stroke="#c8a020" stroke-width="3"/><circle cx="324" cy="9.5" r="5.3" fill="#d8ecfa" stroke="#3a7ed0" stroke-width="1.2"/><rect x="321" y="8.8" width="6" height="1.8" fill="#3a78b8"/><rect x="323.1" y="6.5" width="1.8" height="6" fill="#3a78b8"/></g>
<g shape-rendering="geometricPrecision"><path d="M356 13 L361.5 18.5" stroke="#c8a020" stroke-width="3"/><circle cx="352" cy="9.5" r="5.3" fill="#d8ecfa" stroke="#3a7ed0" stroke-width="1.2"/><rect x="349" y="8.8" width="6" height="1.8" fill="#3a78b8"/></g>
<rect x="374" y="4" width="8" height="8" fill="#2a9a2a"/><rect x="382" y="4" width="8" height="8" fill="#2a5ad0"/><rect x="374" y="12" width="8" height="8" fill="#2a5ad0"/><rect x="382" y="12" width="8" height="8" fill="#2a9a2a"/><rect x="375" y="8" width="6" height="3" fill="#e8f4e8"/><rect x="383" y="8" width="6" height="3" fill="#e8eef8"/><rect x="375" y="16" width="6" height="3" fill="#e8eef8"/><rect x="383" y="16" width="6" height="3" fill="#e8f4e8"/>
<rect x="399" y="1" width="1" height="21" fill="#a8a8a8"/><rect x="400" y="1" width="1" height="21" fill="#fcfcfc"/>
<rect x="404" y="0" width="25" height="22" fill="url(#chk)"/>
<rect x="404" y="0" width="25" height="1" fill="#9a9a9a"/><rect x="404" y="0" width="1" height="22" fill="#9a9a9a"/>
<rect x="429" y="0" width="1" height="23" fill="#fdfdfd"/><rect x="404" y="22" width="26" height="1" fill="#fdfdfd"/>
<rect x="412" y="6" width="1" height="14" fill="#555"/>
<rect x="410" y="17" width="14" height="1" fill="#555"/>
<rect x="411" y="7" width="3" height="1" fill="#555"/>
<rect x="422" y="16" width="1" height="3" fill="#555"/>
<path d="M418 9 L422 12.5 L418 16 Z" fill="#22bb22"/>
<rect x="432" y="0" width="25" height="22" fill="url(#chk)"/>
<rect x="432" y="0" width="25" height="1" fill="#9a9a9a"/><rect x="432" y="0" width="1" height="22" fill="#9a9a9a"/>
<rect x="457" y="0" width="1" height="23" fill="#fdfdfd"/><rect x="432" y="22" width="26" height="1" fill="#fdfdfd"/>
<rect x="440" y="6" width="1" height="14" fill="#555"/>
<rect x="438" y="17" width="14" height="1" fill="#555"/>
<rect x="439" y="7" width="3" height="1" fill="#555"/>
<rect x="450" y="16" width="1" height="3" fill="#555"/>
<rect x="445" y="6" width="1" height="11" fill="#2a6ab0"/><path d="M446 11.5 L450 9.5 L450 13.5 Z" fill="#e04a10"/><rect x="449" y="11" width="3" height="1" fill="#e04a10"/>
<rect x="461" y="1" width="1" height="21" fill="#a8a8a8"/><rect x="462" y="1" width="1" height="21" fill="#fcfcfc"/>
<path d="M471.5 4.5 H480.5 L483.5 7.5 V17.5 H471.5 Z" fill="#fafafa" stroke="#777" stroke-width="1"/>
<path d="M479 10 H483 V14 H487 V18 H483 V22 H479 V18 H475 V14 H479 Z" fill="#3ad03a" stroke="#189018" stroke-width="1"/>
<path d="M492.5 11 L498.5 11 L495.5 14 Z" fill="#000" shape-rendering="geometricPrecision"/>
<g shape-rendering="geometricPrecision"><circle cx="517" cy="11.8" r="7.3" fill="#1a78d8" stroke="#0e58b0" stroke-width="0.8"/><circle cx="517" cy="11.8" r="5.3" fill="#f8fbff"/><path d="M516.5 8 V12.3 H520" fill="none" stroke="#333" stroke-width="1.2"/></g>
<path d="M531.5 11 L537.5 11 L534.5 14 Z" fill="#000" shape-rendering="geometricPrecision"/>
<rect x="548.5" y="5.5" width="15" height="13" fill="#fff" stroke="#3a78c8" stroke-width="1"/><rect x="549" y="6" width="14" height="2" fill="#5a98e0"/><rect x="549" y="12" width="14" height="1" fill="#3a78c8"/><path d="M550 11 L553 10 L556 10.5 L559 9.5 L562 10" fill="none" stroke="#a02a10" stroke-width="1"/><path d="M550 16 L553 15.5 L556 16 L559 14 L562 16" fill="none" stroke="#22a022" stroke-width="1"/>
<path d="M570.5 11 L576.5 11 L573.5 14 Z" fill="#000" shape-rendering="geometricPrecision"/>
<rect x="582" y="1" width="1" height="21" fill="#a8a8a8"/><rect x="583" y="1" width="1" height="21" fill="#fcfcfc"/>
<rect x="586" y="2" width="3" height="1" fill="#a0a0a0"/>
<rect x="586" y="4" width="3" height="1" fill="#a0a0a0"/>
<rect x="586" y="6" width="3" height="1" fill="#a0a0a0"/>
<rect x="586" y="8" width="3" height="1" fill="#a0a0a0"/>
<rect x="586" y="10" width="3" height="1" fill="#a0a0a0"/>
<rect x="586" y="12" width="3" height="1" fill="#a0a0a0"/>
<rect x="586" y="14" width="3" height="1" fill="#a0a0a0"/>
<rect x="586" y="16" width="3" height="1" fill="#a0a0a0"/>
<rect x="586" y="18" width="3" height="1" fill="#a0a0a0"/>
<rect x="586" y="20" width="3" height="1" fill="#a0a0a0"/>
<rect x="592" y="0" width="25" height="22" fill="url(#chk)"/>
<rect x="592" y="0" width="25" height="1" fill="#9a9a9a"/><rect x="592" y="0" width="1" height="22" fill="#9a9a9a"/>
<rect x="617" y="0" width="1" height="23" fill="#fdfdfd"/><rect x="592" y="22" width="26" height="1" fill="#fdfdfd"/>
<path d="M600.5 5 L600.5 16.5 L603 14 L605 19 L607 18.2 L605 13.5 L608.5 13 Z" fill="#444" shape-rendering="geometricPrecision"/>
<rect x="632" y="5" width="1" height="15" fill="#444"/><rect x="625" y="12" width="15" height="1" fill="#444"/><rect x="632" y="12" width="1" height="1" fill="#f0f0f0"/>
<rect x="649" y="1" width="1" height="21" fill="#a8a8a8"/><rect x="650" y="1" width="1" height="21" fill="#fcfcfc"/>
<rect x="666" y="6" width="1" height="13" fill="#444"/>
<rect x="689" y="12" width="12" height="1" fill="#444"/>
<line x1="717" y1="19" x2="729" y2="7" stroke="#444" stroke-width="1.1" shape-rendering="geometricPrecision"/>
<g shape-rendering="geometricPrecision" stroke="#4a4a4a" stroke-width="1" fill="none"><path d="M743.5 15.5 L753 6 M744.5 19 L756 8.5 M747.5 9 L747 17 M750.5 6.5 L750 14.5 M753.5 4 L753 12 M744 13 H748 M749 10 H754"/></g>
<text x="753" y="21" class="ic">E</text>
<line x1="772" y1="5.5" x2="785" y2="5.5" stroke="#555" stroke-width="1" stroke-dasharray="1 1"/>
<line x1="772" y1="9.5" x2="785" y2="9.5" stroke="#555" stroke-width="1" stroke-dasharray="1 1"/>
<line x1="772" y1="12.5" x2="785" y2="12.5" stroke="#555" stroke-width="1" stroke-dasharray="1 1"/>
<line x1="772" y1="16.5" x2="785" y2="16.5" stroke="#555" stroke-width="1" stroke-dasharray="1 1"/>
<text x="782" y="21" class="ic">F</text>
<text x="802.5" y="17" class="icA">A</text>
<rect x="828.5" y="5.5" width="12" height="13" fill="none" stroke="#555" stroke-width="1" stroke-dasharray="1 1"/><rect x="831" y="8" width="7" height="1.6" fill="#555"/><rect x="833.7" y="8" width="1.6" height="8" fill="#555"/>
<g shape-rendering="geometricPrecision" fill="#444"><path d="M856 9 L859.5 6 L863 9 L859.5 11 Z"/><path d="M863 15 L866.5 12.5 L870 15 L866.5 18 Z"/><path d="M858 12 L860 14.5 L864 10" fill="none" stroke="#444" stroke-width="1"/></g>
<path d="M876.5 11 L882 11 L879.25 14 Z" fill="#000" shape-rendering="geometricPrecision"/>
<rect x="888" y="1" width="1" height="21" fill="#a8a8a8"/><rect x="889" y="1" width="1" height="21" fill="#fcfcfc"/>
<rect x="892" y="2" width="3" height="1" fill="#a0a0a0"/>
<rect x="892" y="4" width="3" height="1" fill="#a0a0a0"/>
<rect x="892" y="6" width="3" height="1" fill="#a0a0a0"/>
<rect x="892" y="8" width="3" height="1" fill="#a0a0a0"/>
<rect x="892" y="10" width="3" height="1" fill="#a0a0a0"/>
<rect x="892" y="12" width="3" height="1" fill="#a0a0a0"/>
<rect x="892" y="14" width="3" height="1" fill="#a0a0a0"/>
<rect x="892" y="16" width="3" height="1" fill="#a0a0a0"/>
<rect x="892" y="18" width="3" height="1" fill="#a0a0a0"/>
<rect x="892" y="20" width="3" height="1" fill="#a0a0a0"/>
<text x="903.5" y="16" class="tf">M1</text>
<text x="931.5" y="16" class="tf">M5</text>
<text x="957.5" y="16" class="tf">M15</text>
<text x="985.5" y="16" class="tf">M30</text>
<text x="1016.5" y="16" class="tf">H1</text>
<rect x="1038" y="0" width="25" height="22" fill="url(#chk)"/>
<rect x="1038" y="0" width="25" height="1" fill="#9a9a9a"/><rect x="1038" y="0" width="1" height="22" fill="#9a9a9a"/>
<rect x="1063" y="0" width="1" height="23" fill="#fdfdfd"/><rect x="1038" y="22" width="26" height="1" fill="#fdfdfd"/>
<text x="1043.5" y="16" class="tf">H4</text>
<text x="1072.8" y="16" class="tf">D1</text>
<text x="1100" y="16" class="tf">W1</text>
<text x="1127" y="16" class="tf">MN</text>
<rect x="1149" y="0" width="1" height="23" fill="#a8a8a8"/><rect x="1150" y="0" width="1" height="23" fill="#fcfcfc"/>
<g shape-rendering="geometricPrecision"><circle cx="1619.4" cy="9.4" r="3.6" fill="#f4f6ff" stroke="#2a64d0" stroke-width="1.4"/><line x1="1616.8" y1="12.2" x2="1612.6" y2="16.6" stroke="#2a64d0" stroke-width="2.2"/><path d="M1637 14.5 Q1637 9.5 1643 9.5 Q1649 9.5 1649 14.5 Q1649 18.5 1643 18.5 L1640.5 18.5 L1639 20.5 L1639 18 Q1637 17.5 1637 14.5 Z" fill="#e4e6ee" stroke="#aaa" stroke-width="0.8"/><circle cx="1650.5" cy="9.5" r="8.2" fill="#e0341c"/></g>
<text x="1646.6" y="14" class="bd">1</text>
</svg>
</body></html>
